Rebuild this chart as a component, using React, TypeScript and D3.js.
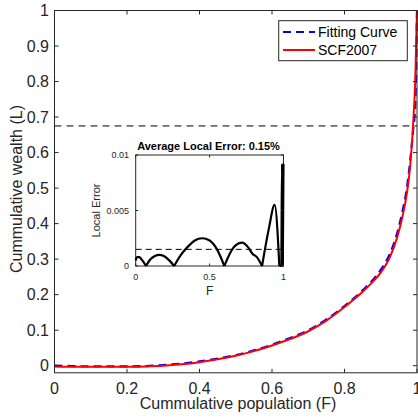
import React from "react";
import * as d3 from "d3";

// ---------- data ----------
const popF = [0, 0.05, 0.1, 0.15, 0.2, 0.25, 0.3, 0.35, 0.4, 0.45, 0.5, 0.55, 0.6, 0.65, 0.7, 0.75, 0.8, 0.85, 0.875, 0.9, 0.925, 0.945, 0.96, 0.972, 0.981, 0.989, 0.995, 1];
const scfL = [-0.002, -0.003, -0.003, -0.003, -0.003, -0.002, 0.0, 0.004, 0.01, 0.018, 0.028, 0.041, 0.057, 0.075, 0.097, 0.127, 0.165, 0.208, 0.233, 0.262, 0.305, 0.36, 0.42, 0.485, 0.56, 0.675, 0.8, 1.0];
const fitL = [0.0, -0.001, -0.002, -0.002, -0.002, -0.001, 0.002, 0.006, 0.012, 0.02, 0.03, 0.043, 0.059, 0.078, 0.1, 0.13, 0.168, 0.212, 0.238, 0.27, 0.315, 0.372, 0.435, 0.5, 0.575, 0.66, 0.73, 1.0];
const refLevel = 0.675;

// inset local error, in arches between zero crossings
const errF = [
  [0, 0.01, 0.025, 0.045, 0.07],
  [0.07, 0.1, 0.13, 0.16, 0.19, 0.22, 0.26],
  [0.26, 0.3, 0.35, 0.4, 0.45, 0.5, 0.55, 0.6],
  [0.6, 0.64, 0.68, 0.72, 0.76, 0.79, 0.82, 0.855],
  [0.855, 0.9, 0.94, 0.972],
  [0.972, 0.985, 0.99, 0.995, 1.0],
];
const errV = [
  [0.0005, 0.0008, 0.0008, 0.0005, 0],
  [0, 0.0006, 0.0009, 0.001, 0.0009, 0.0006, 0],
  [0, 0.0009, 0.0017, 0.0023, 0.0025, 0.0023, 0.0015, 0],
  [0, 0.0012, 0.0019, 0.0021, 0.0017, 0.0011, 0.0008, 0],
  [0, 0.0033, 0.0055, 0],
  [0, 0, 0.0092, 0, 0.0092],
];
const avgErr = 0.0015;

const xTicks = [0, 0.2, 0.4, 0.6, 0.8, 1];
const yTicks = [0, 0.1, 0.2, 0.3, 0.4, 0.5, 0.6, 0.7, 0.8, 0.9, 1];
const insetXTicks = [0, 0.5, 1];
const insetYTicks = [0, 0.005, 0.01];

const legendNames = ["Fitting Curve", "SCF2007"];

const AX = "#262626";
const FONT = "Liberation Sans, Arial, Helvetica, sans-serif";

export default function App() {
  const W = 418, H = 419;
  const x = d3.scaleLinear().domain([0, 1]).range([54.5, 417]);
  const y = d3.scaleLinear().domain([-0.02, 1]).range([372.8, 10.5]);

  const line = (vals: number[]) =>
    d3.line<number>().x((_, i) => x(popF[i])).y((v) => y(v)).curve(d3.curveMonotoneX)(vals) || "";

  const ix = d3.scaleLinear().domain([0, 1]).range([135.7, 283.5]);
  const iy = d3.scaleLinear().domain([0, 0.01]).range([266, 155]);

  const [x0, x1] = x.range();
  const [yb, yt] = y.range();
  const [ix0, ix1] = ix.range();
  const [iyb, iyt] = iy.range();

  return (
    <svg width={W} height={H} style={{ position: "absolute", left: 0, top: 0, background: "#fff" }} fontFamily={FONT}>
      <defs>
        <clipPath id="mainclip">
          <rect x={x0} y={yt - 2} width={x1 - x0 + 3} height={yb - yt + 2} />
        </clipPath>
      </defs>
      <rect x={0} y={0} width={W} height={H} fill="#fff" />

      {/* reference dashed line */}
      <line x1={x0} x2={x1} y1={y(refLevel)} y2={y(refLevel)} stroke="#000" strokeWidth={1} strokeDasharray="7,5" />

      {/* curves */}
      <g clipPath="url(#mainclip)">
        <path d={line(fitL)} fill="none" stroke="#0000ff" strokeWidth={2.2} strokeDasharray="8,5" />
        <path d={line(scfL)} fill="none" stroke="#ff0000" strokeWidth={2} />
      </g>

      {/* main axes box */}
      <g stroke={AX} strokeWidth={1} fill="none">
        <rect x={x0} y={yt} width={x1 - x0} height={yb - yt} />
      </g>
      {xTicks.map((t) => (
        <g key={"xt" + t}>
          <line x1={x(t)} x2={x(t)} y1={yb} y2={yb - 4} stroke={AX} />
          <line x1={x(t)} x2={x(t)} y1={yt} y2={yt + 4} stroke={AX} />
          <text x={x(t)} y={393.5} textAnchor="middle" fontSize={16} fill={AX}>{String(t)}</text>
        </g>
      ))}
      {yTicks.map((t) => (
        <g key={"yt" + t}>
          <line x1={x0} x2={x0 + 4} y1={y(t)} y2={y(t)} stroke={AX} />
          <line x1={x1} x2={x1 - 4} y1={y(t)} y2={y(t)} stroke={AX} />
          <text x={49} y={y(t)} dy="0.36em" textAnchor="end" fontSize={16} fill={AX}>{String(t)}</text>
        </g>
      ))}
      <text x={238} y={409} textAnchor="middle" fontSize={16} fill={AX}>Cummulative population (F)</text>
      <text transform="translate(21.7,189) rotate(-90)" textAnchor="middle" fontSize={16} fill={AX}>Cummulative wealth (L)</text>

      {/* legend */}
      <rect x={278.7} y={20.7} width={128.6} height={40} fill="#fff" stroke={AX} strokeWidth={1} />
      <line x1={283} x2={315} y1={32} y2={32} stroke="#0000ff" strokeWidth={2.2} strokeDasharray="8,5" />
      <line x1={283} x2={315} y1={50} y2={50} stroke="#ff0000" strokeWidth={2} />
      <text x={318} y={32} dy="0.36em" fontSize={14} fill="#000">{legendNames[0]}</text>
      <text x={318} y={50} dy="0.36em" fontSize={14} fill="#000">{legendNames[1]}</text>

      {/* inset */}
      <rect x={ix0} y={iyt} width={ix1 - ix0} height={iyb - iyt} fill="#fff" stroke={AX} strokeWidth={1} />
      <line x1={ix0} x2={ix1} y1={iy(avgErr)} y2={iy(avgErr)} stroke="#000" strokeWidth={1} strokeDasharray="6,4" />
      {errF.map((fs, k) => {
        const d = d3.line<number>().x((f) => ix(f)).y((_, i) => iy(errV[k][i])).curve(d3.curveMonotoneX)(fs) || "";
        return <path key={"arch" + k} d={d} fill="none" stroke="#000" strokeWidth={2.2} strokeLinejoin="round" />;
      })}
      {insetXTicks.map((t) => (
        <g key={"ixt" + t}>
          <line x1={ix(t)} x2={ix(t)} y1={iyb} y2={iyb - 2.5} stroke={AX} />
          <line x1={ix(t)} x2={ix(t)} y1={iyt} y2={iyt + 2.5} stroke={AX} />
          <text x={ix(t)} y={280} textAnchor="middle" fontSize={9} fill={AX}>{String(t)}</text>
        </g>
      ))}
      {insetYTicks.map((t) => (
        <g key={"iyt" + t}>
          <line x1={ix0} x2={ix0 + 2.5} y1={iy(t)} y2={iy(t)} stroke={AX} />
          <line x1={ix1} x2={ix1 - 2.5} y1={iy(t)} y2={iy(t)} stroke={AX} />
          <text x={129} y={iy(t)} dy="0.36em" textAnchor="end" fontSize={9} fill={AX}>{String(t)}</text>
        </g>
      ))}
      <text x={(ix0 + ix1) / 2} y={295} textAnchor="middle" fontSize={12} fill={AX}>F</text>
      <text transform={`translate(100,${(iyt + iyb) / 2}) rotate(-90)`} textAnchor="middle" fontSize={11} fill={AX}>Local Error</text>
      <text x={208.5} y={150} textAnchor="middle" fontSize={11} fontWeight="bold" fill="#000">Average Local Error: 0.15%</text>
    </svg>
  );
}
